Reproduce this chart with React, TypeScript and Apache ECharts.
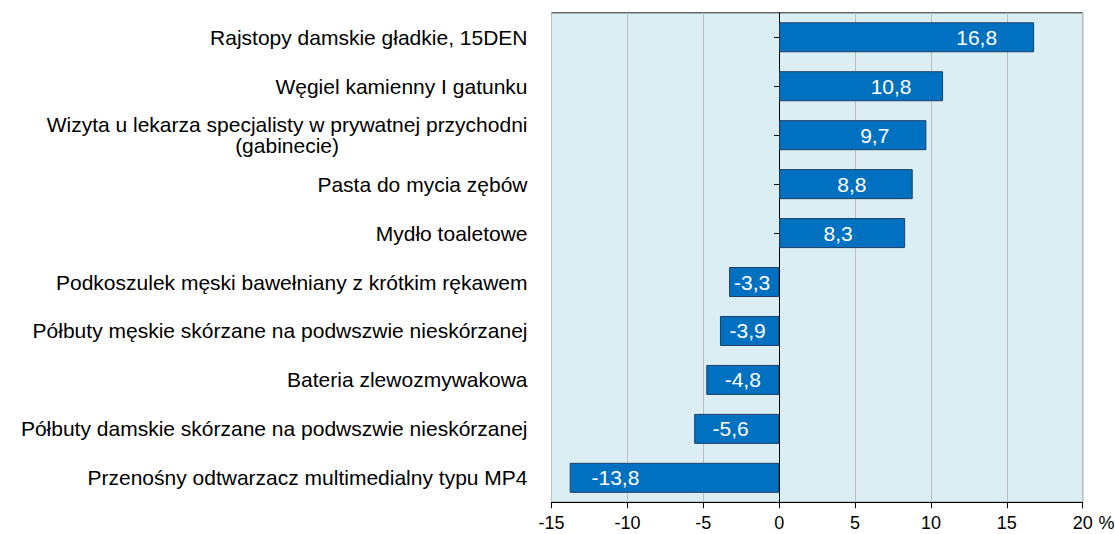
import React, { useEffect, useRef } from "react";
import * as echarts from "echarts";

const categories: string[] = [
  "Rajstopy damskie gładkie, 15DEN",
  "Węgiel kamienny I gatunku",
  "Wizyta u lekarza specjalisty w prywatnej przychodni\n(gabinecie)",
  "Pasta do mycia zębów",
  "Mydło toaletowe",
  "Podkoszulek męski bawełniany z krótkim rękawem",
  "Półbuty męskie skórzane na podwszwie nieskórzanej",
  "Bateria zlewozmywakowa",
  "Półbuty damskie skórzane na podwszwie nieskórzanej",
  "Przenośny odtwarzacz multimedialny typu MP4",
];

const values: number[] = [16.8, 10.8, 9.7, 8.8, 8.3, -3.3, -3.9, -4.8, -5.6, -13.8];

const xTicks: number[] = [-15, -10, -5, 0, 5, 10, 15, 20];

// styling: horizontal shift of each value label from the bar centre (px)
const labelShift: number[] = [70, 30, 22, 6, -4, -2, -2, 0, -6, -59];

export default function App() {
  const ref = useRef<HTMLDivElement>(null);

  useEffect(() => {
    if (!ref.current) return;
    const chart = echarts.init(ref.current, undefined, { renderer: "svg" });
    const font = "Liberation Sans, Arial, sans-serif";
    const fs = 21;
    const fsTick = 18;
    chart.setOption({
      animation: false,
      textStyle: { fontFamily: font },
      grid: {
        left: 551.5,
        right: 32.3,
        top: 12.8,
        bottom: 31.7,
        containLabel: false,
        outerBoundsMode: "none",
        show: true,
        backgroundColor: "#DAEEF3",
        borderColor: "#262626",
        borderWidth: 1,
      },
      xAxis: {
        type: "value",
        min: xTicks[0],
        max: xTicks[xTicks.length - 1],
        interval: 5,
        name: "%",
        nameLocation: "end",
        nameGap: 12,
        nameTextStyle: {
          color: "#000",
          fontSize: fsTick,
          fontFamily: font,
          lineHeight: 16,
          verticalAlign: "top",
          padding: [12.5, 0, 0, 0],
        },
        axisLine: { show: true, onZero: false, lineStyle: { color: "#000", width: 1 } },
        axisTick: { show: true, length: 6, lineStyle: { color: "#000" } },
        axisLabel: {
          color: "#000",
          fontSize: fsTick,
          fontFamily: font,
          lineHeight: 16,
          margin: 12.5,
          formatter: (v: number) => String(v),
        },
        splitLine: { show: true, lineStyle: { color: "#BFBFBF", width: 1 } },
      },
      yAxis: [
        {
          type: "category",
          inverse: true,
          data: categories,
          position: "left",
          axisLine: { show: false, onZero: false },
          axisTick: { show: false },
          splitLine: { show: false },
          axisLabel: {
            color: "#000",
            fontSize: fs,
            fontFamily: font,
            margin: 24,
            lineHeight: 21,
            formatter: (v: string) =>
              v
                .split("\n")
                .map((s) => "{c|" + s + "}")
                .join("\n"),
            rich: {
              c: { align: "center", fontSize: fs, fontFamily: font, color: "#000", lineHeight: 21 },
            },
          },
        },
        {
          type: "category",
          inverse: true,
          data: categories,
          position: "left",
          axisLine: { show: true, onZero: true, lineStyle: { color: "#000", width: 1 } },
          axisTick: { show: true, alignWithLabel: true, length: 5, lineStyle: { color: "#000" } },
          axisLabel: { show: false },
          splitLine: { show: false },
        },
      ],
      series: [
        {
          type: "bar",
          yAxisIndex: 0,
          barWidth: 30,
          data: values.map((v, i) => ({
            value: v,
            label: { offset: [labelShift[i], 0] },
          })),
          itemStyle: { color: "#0070C0", borderColor: "#1F3F66", borderWidth: 1 },
          label: {
            show: true,
            position: "inside",
            color: "#fff",
            fontSize: fs,
            fontFamily: font,
            formatter: (p: any) => String(p.value).replace(".", ","),
          },
        },
      ],
    });
    return () => chart.dispose();
  }, []);

  return (
    <div
      ref={ref}
      style={{ position: "fixed", left: 0, top: 0, width: 1115, height: 534, background: "#fff" }}
    />
  );
}
